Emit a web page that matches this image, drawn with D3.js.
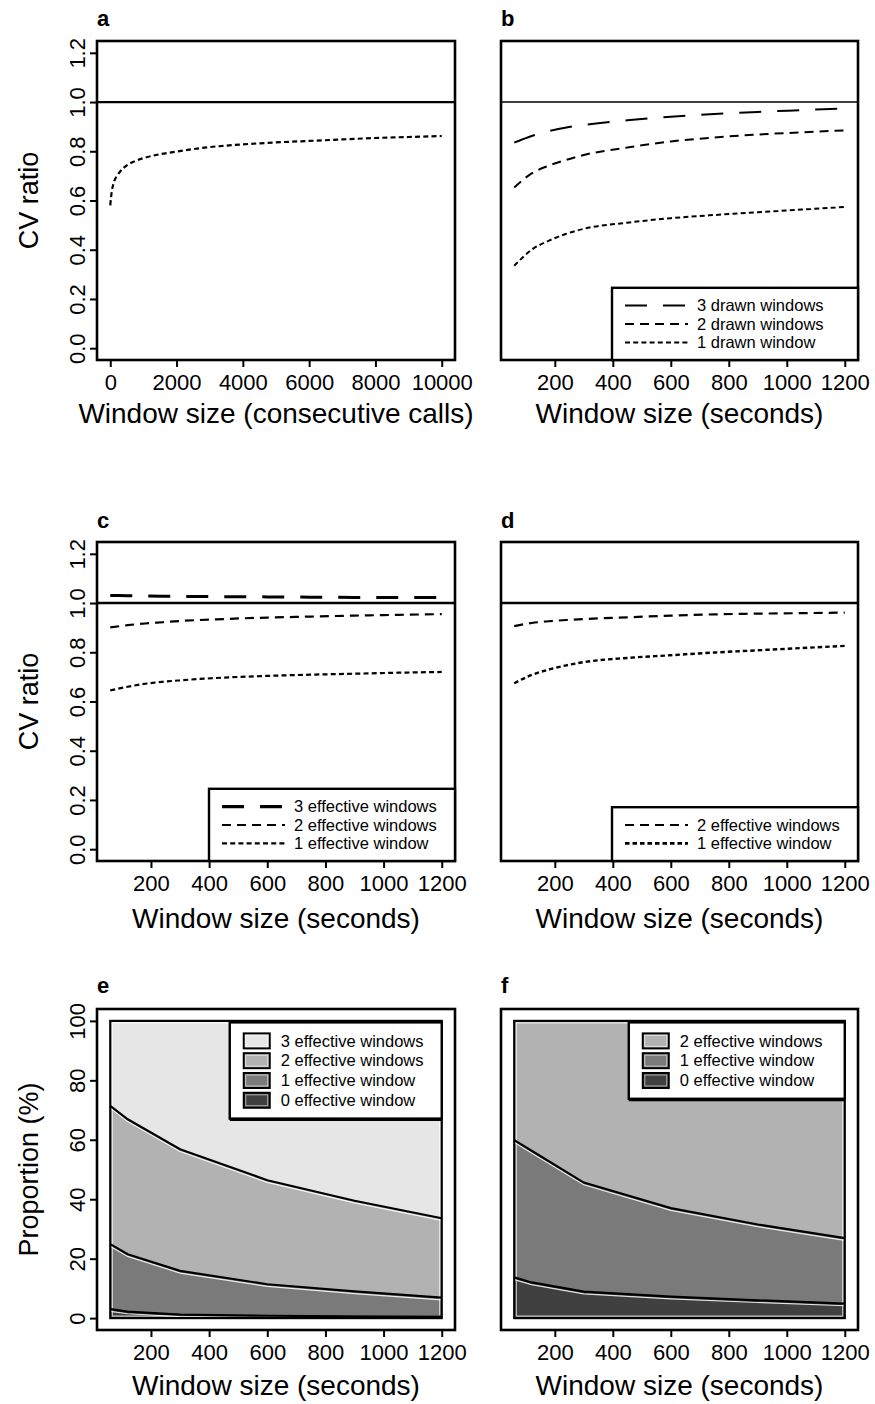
<!DOCTYPE html>
<html><head><meta charset="utf-8">
<script src="https://cdn.jsdelivr.net/npm/d3@7"></script>
<style>body{margin:0;background:#fff;} svg{display:block;}</style>
</head><body><svg id="chart" width="875" height="1404"></svg>
<script>
// ---------- DATA ----------
const cvTicks = [0, 0.2, 0.4, 0.6, 0.8, 1.0, 1.2];
const callTicks = [0, 2000, 4000, 6000, 8000, 10000];
const secTicks = [200, 400, 600, 800, 1000, 1200];
const propTicks = [0, 20, 40, 60, 80, 100];

// panel a
const callsX = [0, 25, 50, 100, 200, 300, 500, 750, 1000, 1500, 2000, 3000, 4000, 5000, 6000, 7000, 8000, 9000, 10000];
const cvCalls = [0.58, 0.615, 0.64, 0.67, 0.70, 0.718, 0.743, 0.76, 0.772, 0.788, 0.799, 0.817, 0.828, 0.836, 0.842, 0.848, 0.854, 0.858, 0.862];

// panels b, c, d
const secX = [60, 120, 180, 240, 300, 450, 600, 750, 900, 1050, 1200];
const drawn3 = [0.835, 0.862, 0.882, 0.897, 0.907, 0.926, 0.940, 0.951, 0.960, 0.967, 0.974];
const drawn2 = [0.653, 0.710, 0.742, 0.765, 0.785, 0.815, 0.840, 0.856, 0.868, 0.877, 0.885];
const drawn1 = [0.335, 0.400, 0.437, 0.465, 0.485, 0.510, 0.528, 0.541, 0.552, 0.563, 0.574];
const effC3 = [1.031, 1.030, 1.029, 1.028, 1.027, 1.026, 1.025, 1.024, 1.023, 1.023, 1.022];
const effC2 = [0.901, 0.910, 0.917, 0.922, 0.927, 0.935, 0.941, 0.945, 0.949, 0.952, 0.955];
const effC1 = [0.645, 0.660, 0.672, 0.680, 0.686, 0.697, 0.704, 0.709, 0.713, 0.717, 0.720];
const effD2 = [0.906, 0.919, 0.926, 0.931, 0.935, 0.942, 0.949, 0.954, 0.957, 0.959, 0.961];
const effD1 = [0.674, 0.708, 0.730, 0.747, 0.760, 0.777, 0.788, 0.799, 0.808, 0.817, 0.826];

// panels e, f (proportions, %)
const propX = [60, 120, 300, 600, 900, 1200];
const e0 = [3.0, 2.2, 1.2, 0.8, 0.6, 0.5];
const e1 = [21.9, 19.3, 14.7, 10.6, 8.4, 6.4];
const e2 = [46.5, 45.4, 40.9, 35.0, 30.5, 26.7];
const e3 = [28.6, 33.1, 43.2, 53.6, 60.5, 66.4];
const f0 = [13.7, 12.0, 8.9, 7.2, 6.0, 4.9];
const f1 = [46.2, 44.3, 36.7, 29.8, 25.5, 22.0];
const f2 = [40.1, 43.7, 54.4, 63.0, 68.5, 73.1];

const legB = ["3 drawn windows", "2 drawn windows", "1 drawn window"];
const legC = ["3 effective windows", "2 effective windows", "1 effective window"];
const legD = ["2 effective windows", "1 effective window"];
const legE = ["3 effective windows", "2 effective windows", "1 effective window", "0 effective window"];
const legF = ["2 effective windows", "1 effective window", "0 effective window"];

// ---------- LAYOUT ----------
const FONT = '"Liberation Sans", Arial, Helvetica, sans-serif';
const svg = d3.select("#chart");
const cols = [{l: 97, r: 455}, {l: 501, r: 858}];
const rows = [{t: 41, b: 360, tt: 63, lt: 26}, {t: 542, b: 861, tt: 67, lt: 528}, {t: 1009, b: 1330, tt: 65, lt: 993}];

const dashLong = "22,16", dashMed = "9,6", dashShort = "5,3.2";

function panel(o) {
  const C = cols[o.ci], R = rows[o.ri];
  const g = svg.append("g");
  const x = d3.scaleLinear().domain(o.xDomain).range([C.l, C.r]);
  const y = d3.scaleLinear().domain(o.yDomain).range([R.b, R.t]);
  const ax = g.append("g").attr("transform", `translate(0,${R.b})`)
    .call(d3.axisBottom(x).tickValues(o.xTicks).tickSize(7).tickPadding(7).tickSizeOuter(0).tickFormat(d3.format("d")));
  ax.select(".domain").remove();
  ax.attr("font-size", 22).attr("font-family", FONT);
  ax.selectAll("line").attr("stroke", "#000").attr("stroke-width", 2);
  ax.selectAll("text").attr("fill", "#000");
  if (o.yTicks) {
    const ay = g.append("g").attr("transform", `translate(${C.l},0)`)
      .call(d3.axisLeft(y).tickValues(o.yTicks).tickSize(7).tickSizeOuter(0).tickFormat(o.yFmt));
    ay.select(".domain").remove();
    ay.attr("font-size", 22).attr("font-family", FONT);
    ay.selectAll("line").attr("stroke", "#000").attr("stroke-width", 2);
    ay.selectAll("text").attr("fill", "#000").attr("x", 0).attr("dy", 0)
      .attr("text-anchor", "middle").attr("transform", "translate(-12,0) rotate(-90)");
    g.append("text").attr("transform", `translate(38,${(R.t + R.b) / 2}) rotate(-90)`)
      .attr("text-anchor", "middle").attr("font-family", FONT).attr("font-size", 27).text(o.yTitle);
  }
  g.append("text").attr("x", (C.l + C.r) / 2).attr("y", R.b + R.tt).attr("text-anchor", "middle")
    .attr("font-family", FONT).attr("font-size", 28).text(o.xTitle);
  g.append("text").attr("x", C.l).attr("y", R.lt).attr("font-family", FONT).attr("font-size", 22)
    .attr("font-weight", "bold").text(o.letter);
  const plot = g.append("g");
  const box = () => g.append("rect").attr("x", C.l).attr("y", R.t).attr("width", C.r - C.l).attr("height", R.b - R.t)
    .attr("fill", "none").attr("stroke", "#000").attr("stroke-width", 2.6);
  return {g, plot, x, y, C, R, box};
}

function drawLine(p, xs, ys, dash, w) {
  const line = d3.line().x(d => p.x(d[0])).y(d => p.y(d[1])).curve(d3.curveMonotoneX);
  p.plot.append("path").datum(xs.map((v, i) => [v, ys[i]])).attr("d", line)
    .attr("fill", "none").attr("stroke", "#000").attr("stroke-width", w).attr("stroke-dasharray", dash);
}
function refLine(p, w) {
  p.plot.append("line").attr("x1", p.C.l).attr("x2", p.C.r).attr("y1", p.y(1)).attr("y2", p.y(1))
    .attr("stroke", "#000").attr("stroke-width", w);
}
function lineLegend(p, labels, dashes, widths) {
  const w = 246, rowH = 18.4, h = rowH * labels.length + 17;
  const lx = p.C.r - w, ly = p.R.b - h;
  const lg = p.g.append("g");
  lg.append("rect").attr("x", lx).attr("y", ly).attr("width", w).attr("height", h)
    .attr("fill", "#fff").attr("stroke", "#000").attr("stroke-width", 2.4);
  labels.forEach((t, i) => {
    const cy = ly + 17.8 + i * rowH;
    lg.append("line").attr("x1", lx + 13).attr("x2", lx + 76).attr("y1", cy).attr("y2", cy)
      .attr("stroke", "#000").attr("stroke-width", widths[i]).attr("stroke-dasharray", dashes[i]);
    lg.append("text").attr("x", lx + 85).attr("y", cy + 5.8).attr("font-family", FONT).attr("font-size", 16.5).text(t);
  });
}
function areaPanel(p, keys, arrays, colors, labels, legW) {
  const table = propX.map((xv, i) => { const r = {x: xv}; keys.forEach((k, j) => r[k] = arrays[j][i]); return r; });
  const series = d3.stack().keys(keys)(table);
  const area = d3.area().x(d => p.x(d.data.x)).y0(d => p.y(d[0])).y1(d => p.y(d[1]));
  series.forEach((s, i) => p.plot.append("path").datum(s).attr("d", area).attr("fill", colors[i]));
  const xl = p.x(propX[0]), xr = p.x(propX[propX.length - 1]), yt = p.y(100), yb = p.y(0);
  p.plot.append("rect").attr("x", xl + 2).attr("y", yt + 2).attr("width", xr - xl - 4).attr("height", yb - yt - 4)
    .attr("fill", "none").attr("stroke", "#fff").attr("stroke-opacity", 0.75).attr("stroke-width", 1.2);
  const ln = d3.line().x(d => p.x(d.data.x)).y(d => p.y(d[1]));
  series.slice(0, -1).forEach(s => {
    p.plot.append("path").datum(s).attr("d", ln).attr("transform", "translate(0,2.2)")
      .attr("fill", "none").attr("stroke", "#fff").attr("stroke-opacity", 0.85).attr("stroke-width", 1.2);
    p.plot.append("path").datum(s).attr("d", ln).attr("fill", "none").attr("stroke", "#000").attr("stroke-width", 2.2);
  });
  p.plot.append("rect").attr("x", xl).attr("y", yt).attr("width", xr - xl).attr("height", yb - yt)
    .attr("fill", "none").attr("stroke", "#000").attr("stroke-width", 2.2);
  // legend (top-right of data rectangle)
  const n = labels.length, rowH = 19.8, h = rowH * n + 17;
  const lx = xr - legW, ly = yt + 1.5;
  const lg = p.g.append("g");
  lg.append("rect").attr("x", lx).attr("y", ly).attr("width", legW).attr("height", h)
    .attr("fill", "#fff").attr("stroke", "#000").attr("stroke-width", 2.4);
  lg.append("line").attr("x1", lx).attr("x2", lx + legW).attr("y1", ly + h + 1.5).attr("y2", ly + h + 1.5)
    .attr("stroke", "#000").attr("stroke-width", 2);
  labels.forEach((t, i) => {
    const cy = ly + 18.5 + i * rowH;
    const ci = n - 1 - i;
    lg.append("rect").attr("x", lx + 14).attr("y", cy - 7.5).attr("width", 26).attr("height", 15)
      .attr("fill", colors[ci]).attr("stroke", "#000").attr("stroke-width", 2);
    lg.append("rect").attr("x", lx + 16).attr("y", cy - 5.5).attr("width", 22).attr("height", 11)
      .attr("fill", "none").attr("stroke", "#fff").attr("stroke-opacity", 0.6).attr("stroke-width", 1);
    lg.append("text").attr("x", lx + 51).attr("y", cy + 5.8).attr("font-family", FONT).attr("font-size", 16.5).text(t);
  });
}

const cvDom = [-0.048, 1.248];
const secDom = [60 - 45.6, 1200 + 45.6];
const propDom = [-4, 104];
const fmt1 = d3.format(".1f");

// a
const pa = panel({ci: 0, ri: 0, xDomain: [-400, 10400], yDomain: cvDom, xTicks: callTicks, yTicks: cvTicks, yFmt: fmt1,
  yTitle: "CV ratio", xTitle: "Window size (consecutive calls)", letter: "a"});
refLine(pa, 2.2);
drawLine(pa, callsX, cvCalls, "5,3.2", 2.2);
pa.box();

// b
const pb = panel({ci: 1, ri: 0, xDomain: secDom, yDomain: cvDom, xTicks: secTicks, xTitle: "Window size (seconds)", letter: "b"});
refLine(pb, 1.6);
drawLine(pb, secX, drawn3, dashLong, 2);
drawLine(pb, secX, drawn2, dashMed, 2);
drawLine(pb, secX, drawn1, dashShort, 2);
pb.box();
lineLegend(pb, legB, [dashLong, dashMed, dashShort], [2, 2, 2]);

// c
const pc = panel({ci: 0, ri: 1, xDomain: secDom, yDomain: cvDom, xTicks: secTicks, yTicks: cvTicks, yFmt: fmt1,
  yTitle: "CV ratio", xTitle: "Window size (seconds)", letter: "c"});
refLine(pc, 2.6);
drawLine(pc, secX, effC3, dashLong, 3);
drawLine(pc, secX, effC2, dashMed, 2.2);
drawLine(pc, secX, effC1, dashShort, 2.2);
pc.box();
lineLegend(pc, legC, [dashLong, dashMed, dashShort], [3.2, 2.2, 2.2]);

// d
const pd = panel({ci: 1, ri: 1, xDomain: secDom, yDomain: cvDom, xTicks: secTicks, xTitle: "Window size (seconds)", letter: "d"});
refLine(pd, 2.6);
drawLine(pd, secX, effD2, dashMed, 2.2);
drawLine(pd, secX, effD1, "4.5,3", 2.4);
pd.box();
lineLegend(pd, legD, [dashMed, "4.5,3"], [2.2, 2.8]);

// e
const pe = panel({ci: 0, ri: 2, xDomain: secDom, yDomain: propDom, xTicks: secTicks, yTicks: propTicks, yFmt: d3.format("d"),
  yTitle: "Proportion (%)", xTitle: "Window size (seconds)", letter: "e"});
areaPanel(pe, ["e0", "e1", "e2", "e3"], [e0, e1, e2, e3], ["#404040", "#7a7a7a", "#b2b2b2", "#e6e6e6"], legE, 212);
pe.box();

// f
const pf = panel({ci: 1, ri: 2, xDomain: secDom, yDomain: propDom, xTicks: secTicks, xTitle: "Window size (seconds)", letter: "f"});
areaPanel(pf, ["f0", "f1", "f2"], [f0, f1, f2], ["#404040", "#7a7a7a", "#b2b2b2"], legF, 216);
pf.box();
</script></body></html>
